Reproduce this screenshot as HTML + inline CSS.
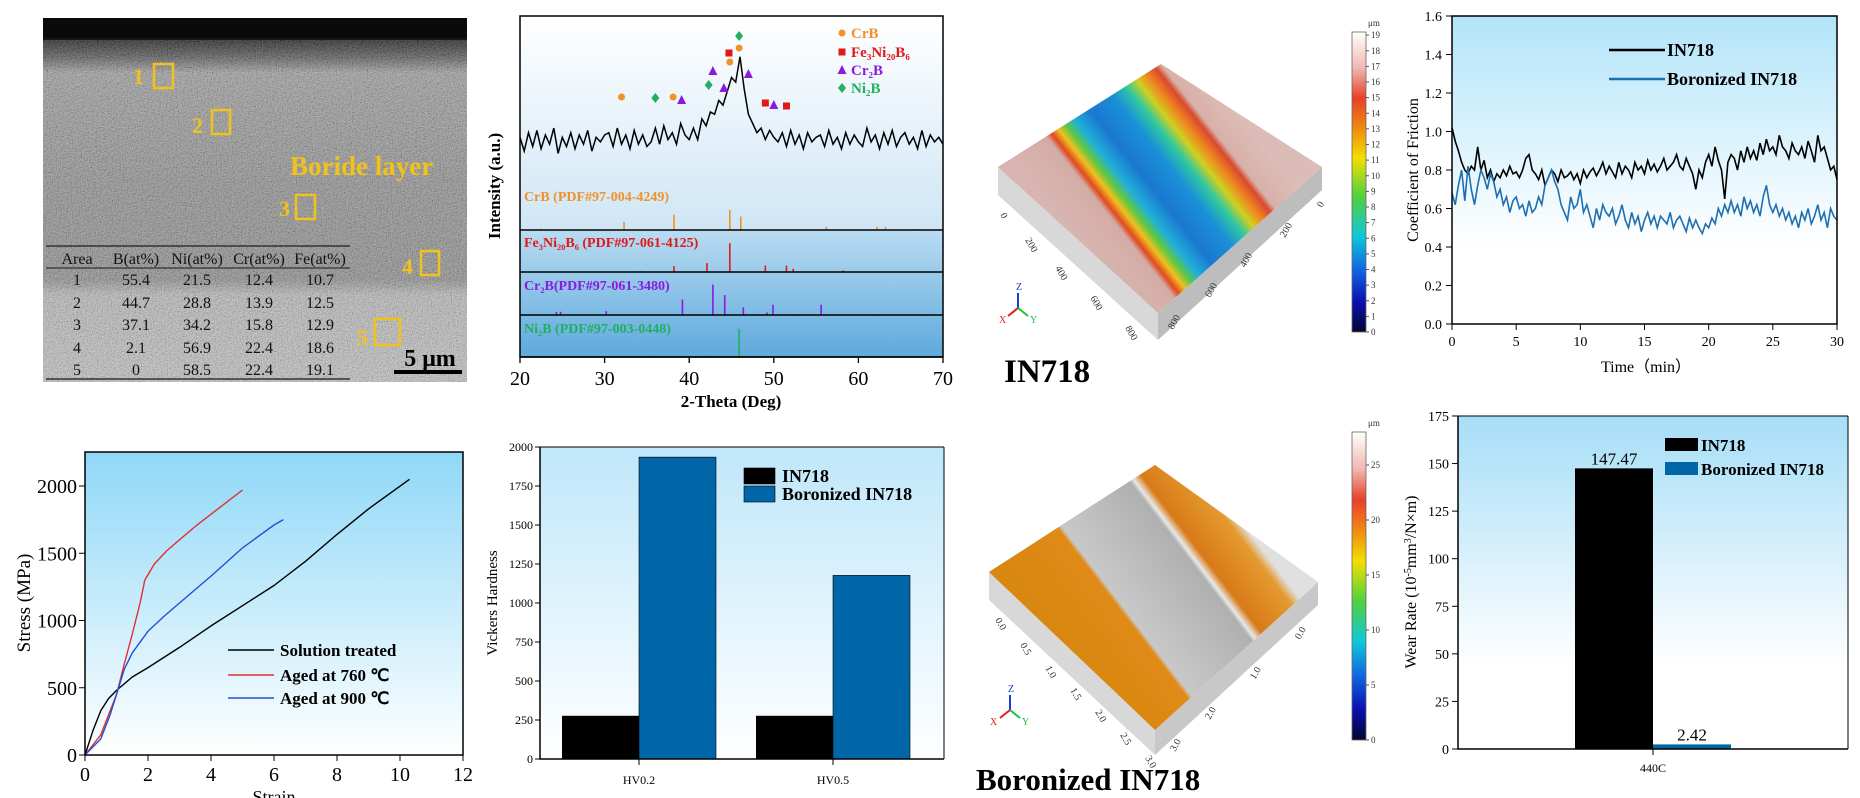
<!DOCTYPE html>
<html><head><meta charset="utf-8">
<style>
html,body{margin:0;padding:0;background:#fff;}
svg{display:block;font-family:"Liberation Serif",serif;}
</style></head>
<body>
<svg id="fig" width="1860" height="798" viewBox="0 0 1860 798" xmlns="http://www.w3.org/2000/svg">
<defs>
<filter id="grain" x="0" y="0" width="100%" height="100%">
<feTurbulence type="fractalNoise" baseFrequency="0.8" numOctaves="2" seed="3"/>
<feColorMatrix type="saturate" values="0"/>
<feComponentTransfer><feFuncR type="linear" slope="2.2" intercept="-0.6"/><feFuncG type="linear" slope="2.2" intercept="-0.6"/><feFuncB type="linear" slope="2.2" intercept="-0.6"/><feFuncA type="linear" slope="0" intercept="1"/></feComponentTransfer>
<feComposite in2="SourceGraphic" operator="in"/>
</filter>
<linearGradient id="semBg" x1="0" y1="0" x2="0" y2="1">
<stop offset="0" stop-color="#111"/><stop offset="0.06" stop-color="#151515"/>
<stop offset="0.11" stop-color="#555"/><stop offset="0.15" stop-color="#9a9a9a"/>
<stop offset="0.45" stop-color="#8c8c8c"/><stop offset="0.72" stop-color="#8a8a8a"/>
<stop offset="0.76" stop-color="#b4b4b4"/><stop offset="1" stop-color="#bcbcbc"/>
</linearGradient>
<linearGradient id="xrdTop" x1="0" y1="0" x2="0" y2="1"><stop offset="0" stop-color="#ffffff"/><stop offset="1" stop-color="#cfe6f5"/></linearGradient>
<linearGradient id="xrdRef" x1="0" y1="0" x2="0" y2="1"><stop offset="0" stop-color="#b9dcf2"/><stop offset="1" stop-color="#5ea9dc"/></linearGradient>
<linearGradient id="skyA" x1="0" y1="0" x2="0" y2="1"><stop offset="0" stop-color="#b3e4f9"/><stop offset="0.75" stop-color="#ffffff"/><stop offset="1" stop-color="#ffffff"/></linearGradient>
<linearGradient id="skyB" x1="0" y1="0" x2="0" y2="1"><stop offset="0" stop-color="#8fd8f7"/><stop offset="1" stop-color="#ffffff"/></linearGradient>
<linearGradient id="skyC" x1="0" y1="0" x2="0" y2="1"><stop offset="0" stop-color="#bfe7fa"/><stop offset="1" stop-color="#ffffff"/></linearGradient>
<linearGradient id="skyD" x1="0" y1="0" x2="0" y2="1"><stop offset="0" stop-color="#a6def7"/><stop offset="0.75" stop-color="#ffffff"/><stop offset="1" stop-color="#ffffff"/></linearGradient>
<linearGradient id="cbar" x1="0" y1="0" x2="0" y2="1">
<stop offset="0" stop-color="#ffffff"/><stop offset="0.12" stop-color="#f0b8b0"/><stop offset="0.22" stop-color="#e8402a"/>
<stop offset="0.32" stop-color="#f08a10"/><stop offset="0.42" stop-color="#f2e000"/><stop offset="0.55" stop-color="#50d040"/>
<stop offset="0.68" stop-color="#10c8d8"/><stop offset="0.8" stop-color="#1060e0"/><stop offset="0.9" stop-color="#0a10b0"/><stop offset="1" stop-color="#050530"/>
</linearGradient>
<linearGradient id="surf1" gradientUnits="userSpaceOnUse" x1="1080" y1="245" x2="1240" y2="118">
<stop offset="0" stop-color="#d8b5b0"/><stop offset="0.2" stop-color="#d4aca6"/><stop offset="0.23" stop-color="#e04a20"/>
<stop offset="0.27" stop-color="#f0c020"/><stop offset="0.31" stop-color="#60c840"/><stop offset="0.36" stop-color="#20b0d8"/>
<stop offset="0.45" stop-color="#1a78d0"/><stop offset="0.58" stop-color="#1a90d8"/><stop offset="0.66" stop-color="#30c8a0"/>
<stop offset="0.72" stop-color="#d0d020"/><stop offset="0.78" stop-color="#f08020"/><stop offset="0.83" stop-color="#d84a30"/>
<stop offset="0.86" stop-color="#d8b0a8"/><stop offset="1" stop-color="#dcbcb6"/>
</linearGradient>
<linearGradient id="surf2" gradientUnits="userSpaceOnUse" x1="1070" y1="650" x2="1240" y2="520">
<stop offset="0" stop-color="#d88810"/><stop offset="0.3" stop-color="#e08a18"/><stop offset="0.32" stop-color="#c8c8c8"/>
<stop offset="0.7" stop-color="#b0b0b0"/><stop offset="0.72" stop-color="#e8e8e8"/><stop offset="0.76" stop-color="#d87a18"/>
<stop offset="0.95" stop-color="#e49a30"/><stop offset="1" stop-color="#e0e0e0"/>
</linearGradient>
</defs>

<!-- ===== SEM panel ===== -->
<g>
<rect x="43" y="18" width="424" height="364" fill="url(#semBg)"/>
<rect x="43" y="40" width="424" height="342" fill="#888" filter="url(#grain)" opacity="0.3"/>
<rect x="43" y="18" width="424" height="20" fill="#0a0a0a"/>
</g>
<g font-weight="bold" fill="#f2c21c">
<text x="133" y="84" font-size="22">1</text><rect x="154" y="64" width="19" height="24" fill="none" stroke="#f2c21c" stroke-width="2.5"/>
<text x="192" y="133" font-size="22">2</text><rect x="212" y="110" width="18" height="24" fill="none" stroke="#f2c21c" stroke-width="2.5"/>
<text x="279" y="216" font-size="22">3</text><rect x="296" y="195" width="19" height="24" fill="none" stroke="#f2c21c" stroke-width="2.5"/>
<text x="402" y="274" font-size="22">4</text><rect x="421" y="251" width="18" height="24" fill="none" stroke="#f2c21c" stroke-width="2.5"/>
<text x="357" y="345" font-size="22">5</text><rect x="375" y="319" width="25" height="26" fill="none" stroke="#f2c21c" stroke-width="2.5"/>
<text x="290" y="175" font-size="27">Boride layer</text>
</g>
<g font-size="16" fill="#111" text-anchor="middle">
<line x1="46" y1="246" x2="350" y2="246" stroke="#333" stroke-width="1.5"/>
<line x1="46" y1="268" x2="350" y2="268" stroke="#333" stroke-width="1.2"/>
<line x1="46" y1="379" x2="350" y2="379" stroke="#333" stroke-width="1.5"/>
<text x="77" y="264">Area</text><text x="136" y="264">B(at%)</text><text x="197" y="264">Ni(at%)</text><text x="259" y="264">Cr(at%)</text><text x="320" y="264">Fe(at%)</text>
<text x="77" y="285">1</text><text x="136" y="285">55.4</text><text x="197" y="285">21.5</text><text x="259" y="285">12.4</text><text x="320" y="285">10.7</text>
<text x="77" y="308">2</text><text x="136" y="308">44.7</text><text x="197" y="308">28.8</text><text x="259" y="308">13.9</text><text x="320" y="308">12.5</text>
<text x="77" y="330">3</text><text x="136" y="330">37.1</text><text x="197" y="330">34.2</text><text x="259" y="330">15.8</text><text x="320" y="330">12.9</text>
<text x="77" y="353">4</text><text x="136" y="353">2.1</text><text x="197" y="353">56.9</text><text x="259" y="353">22.4</text><text x="320" y="353">18.6</text>
<text x="77" y="375">5</text><text x="136" y="375">0</text><text x="197" y="375">58.5</text><text x="259" y="375">22.4</text><text x="320" y="375">19.1</text>
</g>
<g>
<text x="430" y="366" font-size="24" font-weight="bold" text-anchor="middle" fill="#000">5 μm</text>
<rect x="394" y="370" width="68" height="4" fill="#000"/>
</g>

<!-- ===== XRD ===== -->
<g id="xrd">
<rect x="520" y="16" width="423" height="214" fill="url(#xrdTop)"/>
<rect x="520" y="230" width="423" height="127" fill="url(#xrdRef)"/>
</g>

<!-- ===== 3D plot 1 ===== -->
<g>
<polygon points="998,167 1161,64 1161,90 998,195" fill="#c8c8c8"/>
<polygon points="998,167 998,195 1158,340 1158,313" fill="#d8d8d8"/>
<polygon points="1158,313 1158,340 1322,190 1322,167" fill="#bdbdbd"/>
<polygon points="998,167 1161,64 1322,167 1158,313" fill="url(#surf1)"/>
<g font-size="10" fill="#333">
<text x="1000" y="215" transform="rotate(60 1000 215)">0</text>
<text x="1025" y="240" transform="rotate(60 1025 240)">200</text>
<text x="1055" y="268" transform="rotate(60 1055 268)">400</text>
<text x="1090" y="298" transform="rotate(60 1090 298)">600</text>
<text x="1125" y="328" transform="rotate(60 1125 328)">800</text>
<text x="1173" y="330" transform="rotate(-60 1173 330)">800</text>
<text x="1210" y="298" transform="rotate(-60 1210 298)">600</text>
<text x="1245" y="268" transform="rotate(-60 1245 268)">400</text>
<text x="1285" y="238" transform="rotate(-60 1285 238)">200</text>
<text x="1322" y="208" transform="rotate(-60 1322 208)">0</text>
</g>
<g stroke-width="2"><line x1="1018" y1="308" x2="1018" y2="293" stroke="#1a3ad8"/><line x1="1018" y1="308" x2="1008" y2="316" stroke="#e02020"/><line x1="1018" y1="308" x2="1028" y2="316" stroke="#20c040"/></g>
<text x="1016" y="290" font-size="10" fill="#1a3ad8">Z</text><text x="999" y="323" font-size="10" fill="#e02020">X</text><text x="1030" y="323" font-size="10" fill="#20c040">Y</text>
<rect x="1352" y="32" width="14" height="300" fill="url(#cbar)" stroke="#666" stroke-width="0.8"/>
<text x="1368" y="26" font-size="9" fill="#333">μm</text>
<text x="1004" y="382" font-size="33" font-weight="bold" fill="#000">IN718</text>
</g>
<g id="cb1" font-size="9" fill="#333"></g>

<!-- ===== 3D plot 2 ===== -->
<g>
<polygon points="989,572 1155,465 1155,490 989,600" fill="#a8a8a8"/>
<polygon points="989,572 989,600 1155,755 1155,730" fill="#d8d8d8"/>
<polygon points="1155,730 1155,755 1318,605 1318,582" fill="#c8c8c8"/>
<polygon points="989,572 1155,465 1318,582 1155,730" fill="url(#surf2)"/>
<g font-size="10" fill="#333">
<text x="995" y="620" transform="rotate(60 995 620)">0.0</text>
<text x="1020" y="645" transform="rotate(60 1020 645)">0.5</text>
<text x="1045" y="668" transform="rotate(60 1045 668)">1.0</text>
<text x="1070" y="690" transform="rotate(60 1070 690)">1.5</text>
<text x="1095" y="712" transform="rotate(60 1095 712)">2.0</text>
<text x="1120" y="735" transform="rotate(60 1120 735)">2.5</text>
<text x="1145" y="758" transform="rotate(60 1145 758)">3.0</text>
<text x="1175" y="752" transform="rotate(-60 1175 752)">3.0</text>
<text x="1210" y="720" transform="rotate(-60 1210 720)">2.0</text>
<text x="1255" y="680" transform="rotate(-60 1255 680)">1.0</text>
<text x="1300" y="640" transform="rotate(-60 1300 640)">0.0</text>
</g>
<g stroke-width="2"><line x1="1010" y1="710" x2="1010" y2="695" stroke="#1a3ad8"/><line x1="1010" y1="710" x2="1000" y2="718" stroke="#e02020"/><line x1="1010" y1="710" x2="1020" y2="718" stroke="#20c040"/></g>
<text x="1008" y="692" font-size="10" fill="#1a3ad8">Z</text><text x="990" y="725" font-size="10" fill="#e02020">X</text><text x="1022" y="725" font-size="10" fill="#20c040">Y</text>
<rect x="1352" y="432" width="14" height="308" fill="url(#cbar)" stroke="#666" stroke-width="0.8"/>
<text x="1368" y="426" font-size="9" fill="#333">μm</text>
<text x="976" y="790" font-size="31" font-weight="bold" fill="#000">Boronized IN718</text>
</g>
<g id="cb2" font-size="9" fill="#333"></g>

<g id="cof"><rect x="1452" y="16" width="385" height="308" fill="url(#skyA)"/></g>
<g id="ss"><rect x="85" y="452" width="378" height="303" fill="url(#skyB)"/></g>
<g id="hv"><rect x="540" y="447" width="404" height="312" fill="url(#skyC)"/></g>
<g id="wr"><rect x="1458" y="416" width="390" height="333" fill="url(#skyD)"/></g>
</svg>

<script>
// ---------- DATA ----------
const xrdStart = 20, xrdStep = 0.5;
const xrdIntensity = [18,6,22,10,24,8,20,12,26,4,18,
10,22,8,20,12,24,6,18,14,20,
22,10,26,12,20,8,24,12,20,10,
14,26,12,28,16,22,12,30,20,16,
26,16,34,28,40,38,50,46,58,70,
66,88,60,38,30,22,26,16,24,18,
14,22,10,24,12,20,8,22,14,18,
20,10,24,12,18,8,22,12,20,14,
10,26,14,20,8,22,12,24,10,18,
22,12,18,8,24,10,20,14,18,12];
const xrdTicks = [20,30,40,50,60,70];
const crbPos = [22.5,32.3,38.2,44.8,46.1,56.2,62.2,63.2,66.5];
const crbH = [4,25,48,62,42,10,10,10,3];
const feniPos = [34.2,38.2,42.1,44.8,49.0,51.5,52.3,58.2];
const feniH = [3,18,28,90,20,20,10,5];
const cr2bPos = [24.3,24.8,30.2,39.2,42.8,44.2,46.4,49.2,49.9,52.9,55.6,62.2,67.5];
const cr2bH = [10,10,12,48,95,62,24,8,32,3,32,3,3];
const ni2bPos = [35.8,42.4,45.9,57.0,58.5];
const ni2bH = [5,5,88,3,3];
const mkCrB = [[32,97],[38.1,97],[44.8,62],[45.9,48]];
const mkFeNi = [[44.7,53],[49,103],[51.5,106]];
const mkCr2B = [[39.1,100],[42.8,71],[44.1,88],[47,74],[50,105]];
const mkNi2B = [[36,98],[42.3,85],[45.9,36]];

const cofStep = 0.25;
const cofIN718 = [1.02,.95,.90,.84,.80,.78,.82,.80,.92,.80,.85,.76,.80,.74,.78,.76,.80,.77,.82,.78,
.79,.76,.80,.86,.88,.80,.78,.75,.80,.72,.76,.80,.78,.74,.80,.76,.77,.79,.75,.78,
.73,.80,.76,.79,.81,.77,.80,.84,.78,.82,.79,.76,.84,.78,.82,.80,.76,.84,.80,.82,
.78,.85,.80,.83,.79,.82,.86,.80,.82,.84,.88,.82,.80,.86,.82,.78,.70,.80,.76,.84,
.88,.82,.92,.85,.80,.65,.84,.88,.86,.80,.90,.84,.92,.86,.90,.85,.94,.88,.96,.90,
.92,.88,.98,.92,.90,.86,.94,.90,.88,.92,.86,.95,.90,.84,.98,.90,.92,.86,.80,.82,.75];
const cofBoronized = [.68,.62,.72,.80,.64,.82,.70,.62,.72,.80,.76,.70,.78,.74,.66,.70,.62,.66,.58,.64,
.66,.60,.62,.56,.64,.58,.60,.66,.62,.72,.76,.80,.74,.70,.62,.58,.54,.66,.60,.62,
.70,.58,.62,.56,.50,.60,.54,.62,.58,.56,.60,.52,.56,.62,.54,.50,.58,.52,.56,.48,
.54,.58,.52,.56,.50,.56,.54,.52,.58,.50,.54,.56,.52,.48,.55,.50,.54,.50,.47,.52,
.50,.55,.52,.60,.56,.62,.58,.64,.58,.62,.56,.66,.60,.64,.58,.62,.56,.66,.72,.62,
.58,.62,.56,.60,.54,.58,.52,.56,.50,.58,.54,.60,.52,.56,.62,.54,.58,.50,.60,.56,.54];
const cofYTicks = [0.0,0.2,0.4,0.6,0.8,1.0,1.2,1.4,1.6];
const cofXTicks = [0,5,10,15,20,25,30];

const ssSolStrain = [0,0.25,0.5,0.75,1,1.5,2,3,4,5,6,7,8,9,10.3];
const ssSolStress = [0,180,330,420,480,580,650,800,960,1110,1260,1440,1640,1830,2050];
const ss760Strain = [0,0.5,1,1.25,1.5,1.75,1.9,2.2,2.6,3,3.5,4,4.5,5];
const ss760Stress = [0,150,450,680,900,1130,1300,1420,1520,1600,1700,1790,1880,1970];
const ss900Strain = [0,0.5,0.8,1,1.25,1.5,2,2.5,3,4,5,6,6.3];
const ss900Stress = [0,120,300,450,640,760,920,1030,1130,1330,1540,1710,1750];
const ssXTicks = [0,2,4,6,8,10,12];
const ssYTicks = [0,500,1000,1500,2000];

const hvCats = ["HV0.2","HV0.5"];
const hvIN718 = [277,277];
const hvBoronized = [1935,1177];
const hvYTicks = [0,250,500,750,1000,1250,1500,1750,2000];

const wrCats = ["440C"];
const wrIN718 = [147.47];
const wrBoronized = [2.42];
const wrYTicks = [0,25,50,75,100,125,150,175];

const cb1Ticks = [0,1,2,3,4,5,6,7,8,9,10,11,12,13,14,15,16,17,18,19];
const cb2Ticks = [0,5,10,15,20,25];

// ---------- HELPERS ----------
const NS="http://www.w3.org/2000/svg";
function mk(parent,tag,attrs,txt){const e=document.createElementNS(NS,tag);for(const k in attrs)e.setAttribute(k,attrs[k]);if(txt!==undefined)e.textContent=txt;parent.appendChild(e);return e;}
function pts(xs,ys){return xs.map((x,i)=>x.toFixed(1)+","+ys[i].toFixed(1)).join(" ");}

// ---------- XRD ----------
(function(){
const g=document.getElementById('xrd');
const X=t=>520+(t-20)*8.46;
const Yt=v=>158-v*1.15;
const xs=xrdIntensity.map((v,i)=>X(xrdStart+i*xrdStep));
const ys=xrdIntensity.map(v=>Yt(v));
let p=mk(g,'polyline',{points:pts(xs,ys),fill:'none',stroke:'#000','stroke-width':1.5});


const panels=[
 {pos:crbPos,h:crbH,base:230,col:'#f0922a',lab:'CrB (PDF#97-004-4249)',ly:201,name:'crb-reference'},
 {pos:feniPos,h:feniH,base:272,col:'#e01818',lab:'Fe₃Ni₂₀B₆ (PDF#97-061-4125)',ly:247,name:'fe3ni20b6-reference'},
 {pos:cr2bPos,h:cr2bH,base:315,col:'#8a1ae0',lab:'Cr₂B(PDF#97-061-3480)',ly:290,name:'cr2b-reference'},
 {pos:ni2bPos,h:ni2bH,base:357,col:'#20b060',lab:'Ni₂B (PDF#97-003-0448)',ly:333,name:'ni2b-reference'}];
panels.forEach(P=>{
 const gg=mk(g,'g',{});
 
 
 P.pos.forEach((t,i)=>{const l=mk(gg,'line',{x1:X(t),x2:X(t),y1:P.base,y2:P.base-P.h[i]*0.32,stroke:P.col,'stroke-width':1.6});
  
  });
 mk(gg,'line',{x1:520,x2:943,y1:P.base,y2:P.base,stroke:'#000','stroke-width':1.5});
 mk(gg,'text',{x:524,y:P.ly,'font-size':14,'font-weight':'bold',fill:P.col},P.lab);
});
const marker=(type,x,y,c)=>{let e;
 if(type==='c')e=mk(g,'circle',{cx:x,cy:y,r:3.5,fill:c});
 else if(type==='s')e=mk(g,'rect',{x:x-3.5,y:y-3.5,width:7,height:7,fill:c});
 else if(type==='t')e=mk(g,'polygon',{points:`${x},${y-5} ${x-4.5},${y+4} ${x+4.5},${y+4}`,fill:c});
 else e=mk(g,'polygon',{points:`${x},${y-5} ${x-4},${y} ${x},${y+5} ${x+4},${y}`,fill:c});
 
 };
mkCrB.forEach(m=>marker('c',X(m[0]),m[1],'#f0922a'));
mkFeNi.forEach(m=>marker('s',X(m[0]),m[1],'#e01818'));
mkCr2B.forEach(m=>marker('t',X(m[0]),m[1],'#8a1ae0'));
mkNi2B.forEach(m=>marker('d',X(m[0]),m[1],'#20b060'));
const lg=[['c','#f0922a','CrB',33],['s','#e01818','Fe₃Ni₂₀B₆',52],['t','#8a1ae0','Cr₂B',70],['d','#20b060','Ni₂B',88]];
lg.forEach(l=>{marker(l[0],842,l[3],l[1]);const t=mk(g,'text',{x:851,y:l[3]+5,'font-size':15,'font-weight':'bold',fill:l[1]},l[2]);
 
 });
mk(g,'rect',{x:520,y:16,width:423,height:341,fill:'none',stroke:'#000','stroke-width':1.5});
xrdTicks.forEach(t=>{mk(g,'line',{x1:X(t),x2:X(t),y1:357,y2:363,stroke:'#000','stroke-width':1.3});
 const tt=mk(g,'text',{x:X(t),y:385,'font-size':20,'text-anchor':'middle'},t);
 
 });
let xt=mk(g,'text',{x:731,y:407,'font-size':17,'font-weight':'bold','text-anchor':'middle'},'2-Theta (Deg)');


let yt=mk(g,'text',{x:0,y:0,'font-size':17,'font-weight':'bold','text-anchor':'middle',transform:'translate(500,186) rotate(-90)'},'Intensity (a.u.)');


})();

// ---------- colorbars ----------
(function(){
const g1=document.getElementById('cb1'),g2=document.getElementById('cb2');
cb1Ticks.forEach(v=>{const y=332-v*(300/19.2);mk(g1,'line',{x1:1366,x2:1369,y1:y,y2:y,stroke:'#555'});mk(g1,'text',{x:1371,y:y+3},v);});
cb2Ticks.forEach(v=>{const y=740-v*(308/28);mk(g2,'line',{x1:1366,x2:1369,y1:y,y2:y,stroke:'#555'});mk(g2,'text',{x:1371,y:y+3},v);});
})();

// ---------- COF ----------
(function(){
const g=document.getElementById('cof');
const X=t=>1452+t*(385/30), Y=v=>324-v*192.5;
const a=mk(g,'polyline',{points:pts(cofIN718.map((v,i)=>X(i*cofStep)),cofIN718.map(Y)),fill:'none',stroke:'#000','stroke-width':1.6});


const b=mk(g,'polyline',{points:pts(cofBoronized.map((v,i)=>X(i*cofStep)),cofBoronized.map(Y)),fill:'none',stroke:'#1f6fb0','stroke-width':1.6});


mk(g,'rect',{x:1452,y:16,width:385,height:308,fill:'none',stroke:'#000','stroke-width':1.5});
cofYTicks.forEach(v=>{mk(g,'line',{x1:1452,x2:1446,y1:Y(v),y2:Y(v),stroke:'#000'});
 const t=mk(g,'text',{x:1442,y:Y(v)+5,'font-size':14,'text-anchor':'end'},v.toFixed(1));
 
 });
cofXTicks.forEach(v=>{mk(g,'line',{x1:X(v),x2:X(v),y1:324,y2:330,stroke:'#000'});
 const t=mk(g,'text',{x:X(v),y:346,'font-size':14,'text-anchor':'middle'},v);
 
 });
let xt=mk(g,'text',{x:1646,y:372,'font-size':16,'text-anchor':'middle'},'Time（min）');


let yt=mk(g,'text',{x:0,y:0,'font-size':16,'text-anchor':'middle',transform:'translate(1418,170) rotate(-90)'},'Coefficient of Friction');


[['#000','IN718',50],['#1f6fb0','Boronized IN718',79]].forEach(l=>{
 mk(g,'line',{x1:1609,x2:1665,y1:l[2],y2:l[2],stroke:l[0],'stroke-width':2.5});
 const t=mk(g,'text',{x:1667,y:l[2]+6,'font-size':18,'font-weight':'bold'},l[1]);
 
 });
})();

// ---------- Stress-strain ----------
(function(){
const g=document.getElementById('ss');
const X=s=>85+s*31.5, Y=v=>755-v*0.1345;
[[ssSolStrain,ssSolStress,'#000','curve-solution-treated'],[ss760Strain,ss760Stress,'#e03030','curve-aged-760'],[ss900Strain,ss900Stress,'#2050d8','curve-aged-900']].forEach(c=>{
 const p=mk(g,'polyline',{points:pts(c[0].map(X),c[1].map(Y)),fill:'none',stroke:c[2],'stroke-width':1.4,'stroke-linejoin':'round'});
 
 });
mk(g,'rect',{x:85,y:452,width:378,height:303,fill:'none',stroke:'#000','stroke-width':1.5});
ssXTicks.forEach(v=>{mk(g,'line',{x1:X(v),x2:X(v),y1:755,y2:761,stroke:'#000'});
 const t=mk(g,'text',{x:X(v),y:781,'font-size':20,'text-anchor':'middle'},v);
 
 });
ssYTicks.forEach(v=>{mk(g,'line',{x1:85,x2:79,y1:Y(v),y2:Y(v),stroke:'#000'});
 const t=mk(g,'text',{x:77,y:Y(v)+7,'font-size':20,'text-anchor':'end'},v);
 
 });
let xt=mk(g,'text',{x:274,y:803,'font-size':18,'text-anchor':'middle'},'Strain');


let yt=mk(g,'text',{x:0,y:0,'font-size':19,'text-anchor':'middle',transform:'translate(30,603) rotate(-90)'},'Stress (MPa)');


[['#000','Solution treated',650],['#e03030','Aged at 760 ℃',675],['#2050d8','Aged at 900 ℃',698]].forEach(l=>{
 mk(g,'line',{x1:228,x2:274,y1:l[2],y2:l[2],stroke:l[0],'stroke-width':1.6});
 const t=mk(g,'text',{x:280,y:l[2]+6,'font-size':17,'font-weight':'bold'},l[1]);
 
 });
})();

// ---------- Hardness ----------
(function(){
const g=document.getElementById('hv');
const centers=[639,833], Y=v=>759-v*0.156, bw=77;
hvCats.forEach((c,i)=>{
 const a=mk(g,'rect',{x:centers[i]-bw,y:Y(hvIN718[i]),width:bw,height:759-Y(hvIN718[i]),fill:'#000'});
 
 
 const b=mk(g,'rect',{x:centers[i],y:Y(hvBoronized[i]),width:bw,height:759-Y(hvBoronized[i]),fill:'#0066a8',stroke:'#000','stroke-width':0.6});
 
 
 mk(g,'line',{x1:centers[i],x2:centers[i],y1:759,y2:765,stroke:'#000'});
 const t=mk(g,'text',{x:centers[i],y:784,'font-size':12,'text-anchor':'middle'},c);
 
 });
mk(g,'polyline',{points:'540,447 540,759 944,759',fill:'none',stroke:'#000','stroke-width':1.5});
mk(g,'line',{x1:944,x2:944,y1:447,y2:759,stroke:'#000','stroke-width':1});
mk(g,'line',{x1:540,x2:944,y1:447,y2:447,stroke:'#000','stroke-width':1});
hvYTicks.forEach(v=>{mk(g,'line',{x1:540,x2:535,y1:Y(v),y2:Y(v),stroke:'#000'});
 const t=mk(g,'text',{x:533,y:Y(v)+4,'font-size':12,'text-anchor':'end'},v);
 
 });
let yt=mk(g,'text',{x:0,y:0,'font-size':15,'text-anchor':'middle',transform:'translate(497,603) rotate(-90)'},'Vickers Hardness');


[['#000','IN718',468],['#0066a8','Boronized IN718',486]].forEach(l=>{
 mk(g,'rect',{x:744,y:l[2],width:31,height:16,fill:l[0],stroke:'#000','stroke-width':0.6});
 const t=mk(g,'text',{x:782,y:l[2]+14,'font-size':18,'font-weight':'bold'},l[1]);
 
 });
})();

// ---------- Wear rate ----------
(function(){
const g=document.getElementById('wr');
const Y=v=>749-v*1.903, c=1653, bw=78;
wrCats.forEach((cat,i)=>{
 const a=mk(g,'rect',{x:c-bw,y:Y(wrIN718[i]),width:bw,height:749-Y(wrIN718[i]),fill:'#000'});
 
 
 const b=mk(g,'rect',{x:c,y:Y(wrBoronized[i]),width:bw,height:749-Y(wrBoronized[i]),fill:'#0066a8'});
 
 
 const la=mk(g,'text',{x:c-bw/2,y:Y(wrIN718[i])-4,'font-size':17,'text-anchor':'middle'},wrIN718[i].toFixed(2));
 
 
 const lb=mk(g,'text',{x:c+bw/2,y:Y(wrBoronized[i])-4,'font-size':17,'text-anchor':'middle'},wrBoronized[i].toFixed(2));
 
 
 mk(g,'line',{x1:c,x2:c,y1:749,y2:755,stroke:'#000'});
 const t=mk(g,'text',{x:c,y:772,'font-size':12,'text-anchor':'middle'},cat);
 
 });
mk(g,'polyline',{points:'1458,416 1458,749 1848,749',fill:'none',stroke:'#000','stroke-width':1.5});
mk(g,'line',{x1:1848,x2:1848,y1:416,y2:749,stroke:'#000','stroke-width':1});
mk(g,'line',{x1:1458,x2:1848,y1:416,y2:416,stroke:'#000','stroke-width':1});
wrYTicks.forEach(v=>{mk(g,'line',{x1:1458,x2:1452,y1:Y(v),y2:Y(v),stroke:'#000'});
 const t=mk(g,'text',{x:1449,y:Y(v)+5,'font-size':14,'text-anchor':'end'},v);
 
 });
const yt=mk(g,'text',{x:0,y:0,'font-size':16,'text-anchor':'middle',transform:'translate(1416,582) rotate(-90)'});


yt.innerHTML='Wear Rate (10<tspan baseline-shift="super" font-size="10">-5</tspan>mm<tspan baseline-shift="super" font-size="10">3</tspan>/N×m)';
[['#000','IN718',438],['#0066a8','Boronized IN718',462]].forEach(l=>{
 mk(g,'rect',{x:1665,y:l[2],width:33,height:13,fill:l[0]});
 const t=mk(g,'text',{x:1701,y:l[2]+13,'font-size':17,'font-weight':'bold'},l[1]);
 
 });
})();
</script>
</body></html>
